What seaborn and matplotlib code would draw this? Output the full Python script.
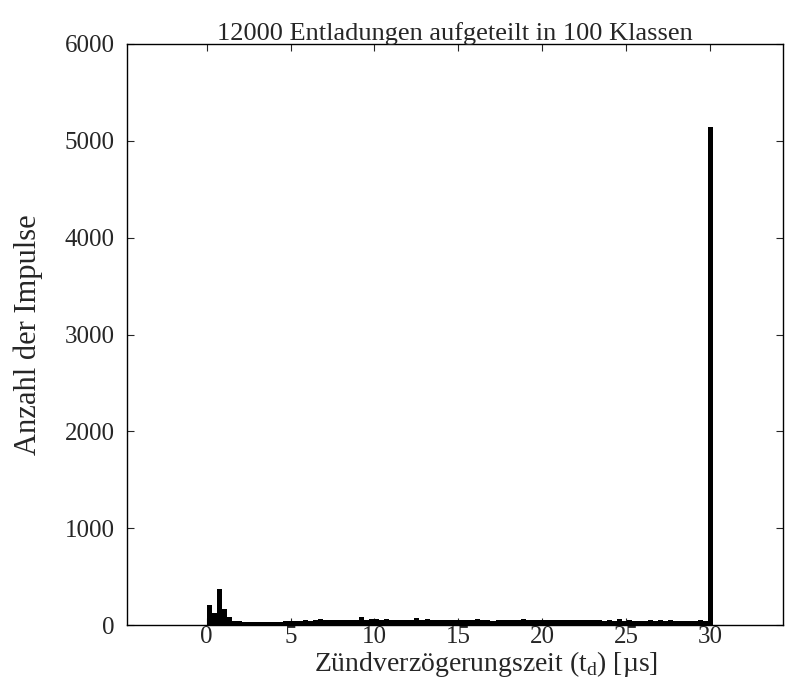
import numpy as np
import pandas as pd
import matplotlib
matplotlib.use("Agg")
import matplotlib.pyplot as plt
import seaborn as sns

title = "12000 Entladungen aufgeteilt in 100 Klassen"
xlabel = "Zündverzögerungszeit (t$_\\mathregular{d}$) [µs]"
ylabel = "Anzahl der Impulse"

bin_start = 0.0
bin_end = 30.2
n_bins = 100

counts = [
    207, 120, 375, 165, 80, 45, 40, 35, 30, 30,
    28, 32, 30, 35, 30, 38, 40, 45, 42, 48,
    45, 50, 58, 50, 48, 50, 52, 50, 50, 48,
    85, 55, 60, 58, 55, 60, 50, 52, 55, 50,
    52, 68, 55, 65, 52, 50, 55, 52, 50, 55,
    52, 50, 55, 65, 48, 55, 40, 52, 55, 50,
    52, 55, 65, 52, 50, 55, 50, 52, 55, 50,
    48, 52, 50, 48, 50, 52, 48, 50, 45, 48,
    45, 58, 42, 55, 45, 42, 45, 48, 42, 55,
    42, 52, 42, 45, 42, 40, 42, 50, 40, 5140,
]

xticks = [0, 5, 10, 15, 20, 25, 30]
yticks = [0, 1000, 2000, 3000, 4000, 5000, 6000]

edges = np.linspace(bin_start, bin_end, n_bins + 1)
centers = (edges[:-1] + edges[1:]) / 2
df = pd.DataFrame({"t": centers, "n": np.asarray(counts, dtype=float)})

sns.set_style("ticks")
plt.rcParams["font.family"] = ["Liberation Serif", "DejaVu Serif"]
plt.rcParams["mathtext.fontset"] = "custom"
plt.rcParams["mathtext.rm"] = "Liberation Serif"

fig = plt.figure(figsize=(7.85, 6.79), dpi=100)
ax = fig.add_axes([127 / 785, 1 - 625 / 679, (783 - 127) / 785, (625 - 44) / 679])

sns.histplot(data=df, x="t", weights="n", bins=n_bins, binrange=(bin_start, bin_end),
             color="black", alpha=1.0, linewidth=0, ax=ax)

ax.set_xlim(-4.75, 34.35)
ax.set_ylim(0, 6000)
ax.set_xticks(xticks)
ax.set_yticks(yticks)
ax.tick_params(direction="in", top=True, right=True, length=5, width=0.8,
               labelsize=18)
ax.tick_params(axis="x", pad=1)
ax.tick_params(axis="y", pad=9)
for s in ax.spines.values():
    s.set_linewidth(1.0)
    s.set_color("black")

ax.set_title(title, fontsize=19, pad=3)
ax.set_xlabel(xlabel, fontsize=20)
ax.xaxis.set_label_coords(0.547, -0.041, transform=ax.transAxes)
ax.xaxis.label.set_va("top")
ax.set_ylabel(ylabel, fontsize=22)
ax.yaxis.set_label_coords(-0.150, 0.5, transform=ax.transAxes)
ax.yaxis.label.set_va("center")
ax.yaxis.label.set_ha("center")

fig.savefig("out.png", dpi=100)
